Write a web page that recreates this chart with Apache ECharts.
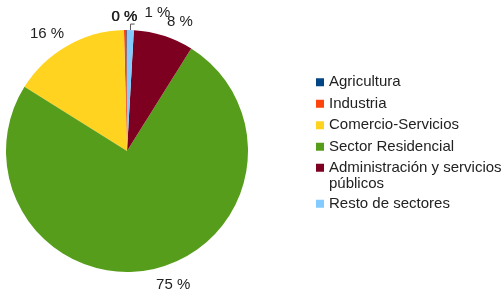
<!DOCTYPE html>
<html><head><meta charset="utf-8">
<script src="https://cdn.jsdelivr.net/npm/echarts@6/dist/echarts.min.js"></script>
<style>html,body{margin:0;padding:0;background:#fff}#c{width:504px;height:291px}</style>
</head><body><div id="c"></div>
<script>
const categories = ['Agricultura','Industria','Comercio-Servicios','Sector Residencial','Administración y servicios públicos','Resto de sectores'];
const values = [0.1, 0.3, 15.7, 75.0, 8.0, 0.9];
const colors = ['#004586','#ff420e','#ffd320','#579d1c','#7e0021','#83caff'];
const legendNames = {'Administración y servicios públicos':'\nAdministración y servicios\npúblicos'};
// label nudges (px) relative to ECharts' outside placement
const labelDx = [16, 17, 4, -4, -3, 5];
const labelDy = [-9, -9, -9, 12, -10, -11];

const legendBase = {
  orient:'vertical', left:316, padding:0,
  itemWidth:8, itemHeight:8, itemGap:5, icon:'rect',
  textStyle:{fontFamily:'Liberation Sans', fontSize:15, color:'#222', lineHeight:16.5},
  formatter: n => legendNames[n] || n
};

const chart = echarts.init(document.getElementById('c'), null, {renderer:'canvas'});
chart.setOption({
  animation:false,
  color: colors,
  legend:[
    Object.assign({}, legendBase, {top:74, data: categories.slice(0,4)}),
    Object.assign({}, legendBase, {top:143, itemGap:3, data: categories.slice(4)})
  ],
  series:[{
    type:'pie', center:[127,151], radius:[0,121],
    startAngle:90, clockwise:false, avoidLabelOverlap:false,
    itemStyle:{borderWidth:0},
    label:{show:true, position:'outside', fontFamily:'Liberation Sans', fontSize:15, color:'#222',
      formatter: p => Math.round(p.percent) + ' %'},
    labelLine:{show:false, length:4, length2:0},
    labelLayout: p => ({dx: labelDx[p.dataIndex], dy: labelDy[p.dataIndex]}),
    data: categories.map((c,i)=>({name:c, value:values[i],
      labelLine: i===5 ? {show:true, length:6, length2:4, lineStyle:{color:'#555', width:1}} : undefined}))
  }]
});
</script></body></html>
